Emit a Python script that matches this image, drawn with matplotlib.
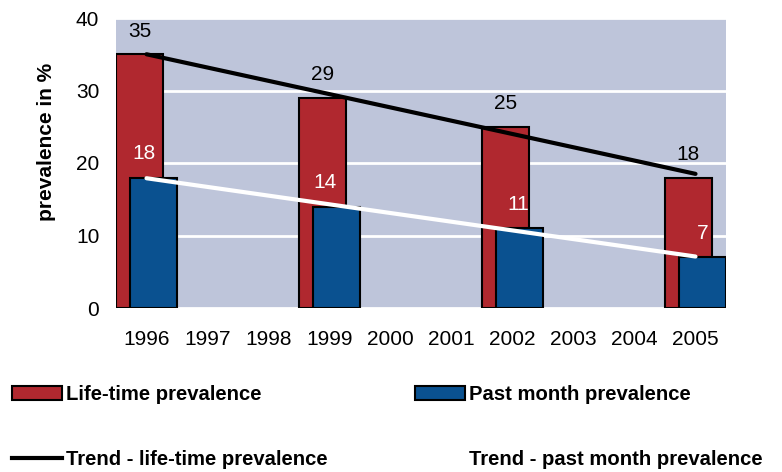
import numpy as np
import matplotlib
import matplotlib.pyplot as plt
from matplotlib.patches import Patch
from matplotlib.lines import Line2D

matplotlib.use('Agg')

plt.rcParams['font.family'] = ['Liberation Sans', 'DejaVu Sans']

# 데이터
years = [1996, 1997, 1998, 1999, 2000, 2001, 2002, 2003, 2004, 2005]
survey_years = [1996, 1999, 2002, 2005]
lifetime = [35, 29, 25, 18]
past_month = [18, 14, 11, 7]

red = '#b0282f'
blue = '#0a5190'
bg = '#bec5da'

fig = plt.figure(figsize=(7.82, 4.72), dpi=100)
ax = fig.add_axes([116 / 782, 1 - 308 / 472, 610 / 782, 290 / 472])
ax.set_facecolor(bg)

x_all = np.arange(len(years))
x = np.array([years.index(y) for y in survey_years])

w = 0.77
off = 0.115
ax.bar(x - off, lifetime, width=w, color=red, edgecolor='black', linewidth=1.5, zorder=2)
ax.bar(x + off, past_month, width=w, color=blue, edgecolor='black', linewidth=1.5, zorder=3)

# 추세선 (선형 회귀)
for vals, col in [(lifetime, 'black'), (past_month, 'white')]:
    k, b = np.polyfit(x, vals, 1)
    ax.plot([x[0], x[-1]], [k * x[0] + b, k * x[-1] + b], color=col, linewidth=3,
            solid_capstyle='round', zorder=4)

# 값 라벨
for xi, v in zip(x, lifetime):
    ax.text(xi - off, v + 3.2, str(v), ha='center', va='center', fontsize=15, color='black', zorder=5)
past_label_dx = [-0.04, -0.07, 0.09, 0.11]
for xi, v, dx in zip(x, past_month, past_label_dx):
    ax.text(xi + dx, v + 3.3, str(v), ha='center', va='center', fontsize=15, color='white', zorder=5)

ax.set_xlim(-0.5, len(years) - 0.5)
ax.set_ylim(0, 40)
ax.set_yticks([0, 10, 20, 30, 40])
ax.set_xticks(x_all)
ax.set_xticklabels([str(y) for y in years])
ax.tick_params(axis='both', length=0, labelsize=15)
ax.tick_params(axis='x', pad=16)
ax.tick_params(axis='y', pad=12)
ax.grid(axis='y', color='white', linewidth=2, zorder=1)
ax.set_axisbelow(True)
for s in ax.spines.values():
    s.set_visible(False)

fig.text(47 / 782, 1 - 142 / 472, 'prevalence in %', rotation=90, ha='center', va='center',
         fontsize=15, fontweight='bold')

# 범례 (열 우선 순서)
handles = [
    Patch(facecolor=red, edgecolor='black', linewidth=1.5),
    Line2D([], [], color='black', linewidth=3),
    Patch(facecolor=blue, edgecolor='black', linewidth=1.5),
    Line2D([], [], color='white', linewidth=3),
]
labels = ['Life-time prevalence', 'Trend - life-time prevalence',
          'Past month prevalence', 'Trend - past month prevalence']
fig.legend(handles, labels, loc='upper left', bbox_to_anchor=(12 / 782, 1 - 385 / 472), ncol=2,
           frameon=False, prop={'weight': 'bold', 'size': 14.6}, handlelength=2.45,
           handleheight=0.7, handletextpad=0.22, columnspacing=4.3, labelspacing=2.25,
           borderpad=0, borderaxespad=0)

plt.savefig('out.png', dpi=100)
plt.close()
